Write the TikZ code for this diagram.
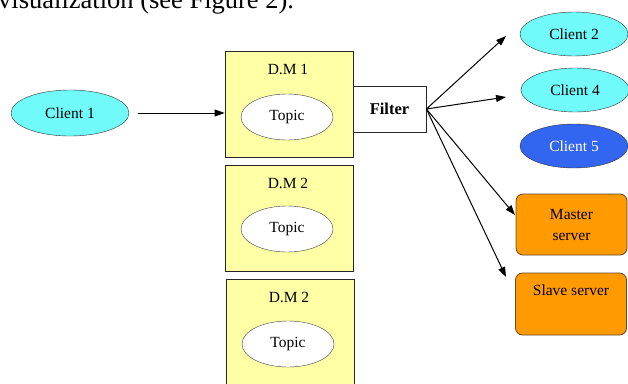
\documentclass[tikz,border=0pt]{standalone}
\usepackage{fontspec}
\setmainfont{Liberation Serif}
\usetikzlibrary{shapes.geometric,arrows.meta}
\definecolor{cyanfill}{HTML}{70FAFA}
\definecolor{dmyellow}{HTML}{FFFFA6}
\definecolor{bluefill}{HTML}{3366F0}
\definecolor{orangefill}{HTML}{FF9A00}
\definecolor{brownline}{HTML}{5C4A2E}
\newcommand*{\NodeFont}{\fontsize{15.5}{21}\selectfont}

\begin{document}
\begin{tikzpicture}[x=1pt,y=-1pt,
    client/.style={ellipse, draw=black!80, fill=cyanfill, minimum width=108pt,
        minimum height=44pt, inner sep=0pt, font=\NodeFont},
    dmbox/.style={rectangle, draw=black!85, line width=0.8pt, fill=dmyellow,
        minimum width=128pt, minimum height=106pt, inner sep=0pt},
    topic/.style={ellipse, draw=black!75, fill=white, minimum width=92pt,
        minimum height=46pt, inner sep=0pt, font=\NodeFont},
    server/.style={rectangle, rounded corners=7pt, draw=brownline, line width=0.8pt,
        fill=orangefill, minimum width=111pt, minimum height=61pt, inner sep=0pt,
        align=center, font=\NodeFont},
    arr/.style={-{Triangle[length=10pt,width=7pt]}, line width=1pt}]
    \useasboundingbox (0,0) rectangle (628,383);
    \clip (0,0) rectangle (628,383);
    % text of the page above the figure
    \node[anchor=base west, inner sep=0pt, font=\fontsize{26.5}{30}\selectfont] (caption)
        at (-2,8) {visualization (see Figure 2).};
    % data managers
    \node[dmbox] (dm1) at (289,104) {};
    \node[font=\NodeFont] (dm1lbl) at (288,69) {D.M 1};
    \node[topic] (topic1) at (287,117) {Topic};
    \node[dmbox] (dm2) at (289,218) {};
    \node[font=\NodeFont] (dm2lbl) at (288,183) {D.M 2};
    \node[topic] (topic2) at (287,229) {Topic};
    \node[dmbox] (dm3) at (290,332) {};
    \node[font=\NodeFont] (dm3lbl) at (289,297) {D.M 2};
    \node[topic] (topic3) at (288,344) {Topic};
    \node[rectangle, draw=black!85, line width=0.8pt, fill=white, minimum width=73pt,
        minimum height=46pt, inner sep=0pt,
        font=\fontsize{16.5}{19}\selectfont\bfseries] (filter) at (389.5,109) {Filter};
    % clients
    \node[client] (client1) at (70,113) [minimum width=118pt, minimum height=46pt] {Client 1};
    \node[client] (client2) at (574,34) {Client 2};
    \node[client] (client4) at (575,90) {Client 4};
    \node[client, fill=bluefill, text=white] (client5) at (574,146) {Client 5};
    \node[server] (master) at (571.5,224.5) {Master\\server};
    \node[server, minimum height=62pt] (slave) at (571,304) {Slave server\\\strut};
    % connectors
    \coordinate (toclient2) at (506,36);
    \coordinate (toclient4) at (506,97);
    \coordinate (tomaster) at (515,215);
    \coordinate (toslave) at (506,277);
    \draw[arr, shorten <=9pt] (client1.east) -- (client1.east -| dm1.west);
    \foreach \t in {toclient2,toclient4,tomaster,toslave}
        \draw[arr] (filter.east) -- (\t);
\end{tikzpicture}
\end{document}
